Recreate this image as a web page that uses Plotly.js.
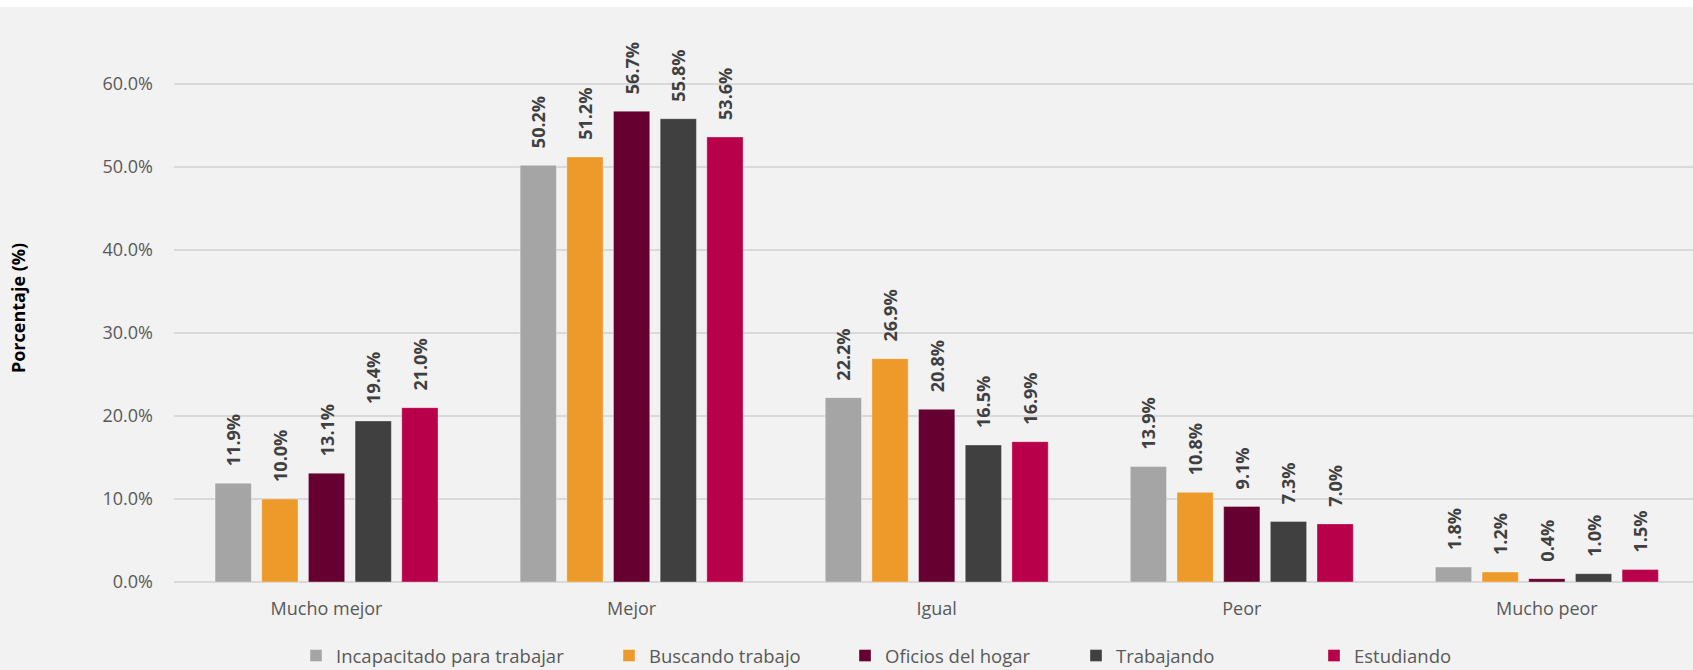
<!DOCTYPE html>
<html>
<head>
<meta charset="utf-8">
<script src="https://cdn.plot.ly/plotly-3.0.1.min.js"></script>
<style>
  html, body { margin: 0; padding: 0; background: #ffffff; }
  #chart { position: absolute; left: 0; top: 7px; width: 1693px; height: 663px; }
</style>
</head>
<body>
<div id="chart"></div>
<script>
const categories = ["Mucho mejor", "Mejor", "Igual", "Peor", "Mucho peor"];
const seriesNames = ["Incapacitado para trabajar", "Buscando trabajo", "Oficios del hogar", "Trabajando", "Estudiando"];
const incapacitado = [11.9, 50.2, 22.2, 13.9, 1.8];
const buscando = [10.0, 51.2, 26.9, 10.8, 1.2];
const oficios = [13.1, 56.7, 20.8, 9.1, 0.4];
const trabajando = [19.4, 55.8, 16.5, 7.3, 1.0];
const estudiando = [21.0, 53.6, 16.9, 7.0, 1.5];
const yTickVals = [0, 10, 20, 30, 40, 50, 60];

const seriesValues = [incapacitado, buscando, oficios, trabajando, estudiando];
const colors = ["#A5A5A5", "#EE9A2A", "#660030", "#404040", "#B8004A"];
const legendX = [296, 609, 845, 1076, 1314];

const pad = "\u00a0\u00a0\u00a0";
const traces = seriesValues.map((vals, i) => ({
  type: "bar",
  name: seriesNames[i],
  x: categories,
  y: vals,
  text: vals.map(v => pad + v.toFixed(1) + "%"),
  textposition: "outside",
  textangle: -90,
  constraintext: "none",
  cliponaxis: false,
  textfont: { family: "Open Sans", size: 18, color: "#404040", weight: "bold" },
  marker: { color: colors[i], line: { color: "rgba(255,255,255,0.35)", width: 1 } },
  legend: i === 0 ? "legend" : "legend" + (i + 1),
  hoverinfo: "skip"
}));

const layout = {
  width: 1693,
  height: 663,
  paper_bgcolor: "#F2F2F2",
  plot_bgcolor: "#F2F2F2",
  margin: { l: 174, r: 0, t: 27, b: 88 },
  barmode: "group",
  bargap: 0.235,
  bargroupgap: 0.223,
  font: { family: "Open Sans", color: "#595959" },
  xaxis: {
    type: "category",
    range: [-0.5, 4.479],
    showgrid: false,
    zeroline: false,
    showline: false,
    ticks: "",
    ticklabelstandoff: 14,
    tickfont: { family: "Open Sans", size: 18, color: "#595959" },
    fixedrange: true
  },
  yaxis: {
    range: [0, 66],
    tickvals: yTickVals,
    ticktext: yTickVals.map(v => v.toFixed(1) + "%"),
    showgrid: true,
    gridcolor: "#D9D9D9",
    gridwidth: 1.6,
    zeroline: true,
    zerolinecolor: "#D9D9D9",
    zerolinewidth: 1.6,
    showline: false,
    ticks: "",
    ticklabelstandoff: 20,
    tickfont: { family: "Open Sans", size: 18, color: "#595959" },
    title: {
      text: "Porcentaje (%)",
      font: { family: "Open Sans", size: 18, color: "#000000", weight: "bold" },
      standoff: 72
    },
    automargin: false,
    fixedrange: true
  },
  showlegend: true
};

seriesNames.forEach((n, i) => {
  const key = i === 0 ? "legend" : "legend" + (i + 1);
  layout[key] = {
    xref: "container",
    yref: "container",
    x: legendX[i] / 1693,
    y: 14 / 663,
    xanchor: "left",
    yanchor: "middle",
    orientation: "h",
    bgcolor: "rgba(0,0,0,0)",
    itemwidth: 30,
    font: { family: "Open Sans", size: 18.5, color: "#595959" }
  };
});

Plotly.newPlot("chart", traces, layout, { displayModeBar: false, staticPlot: true });
</script>
</body>
</html>
